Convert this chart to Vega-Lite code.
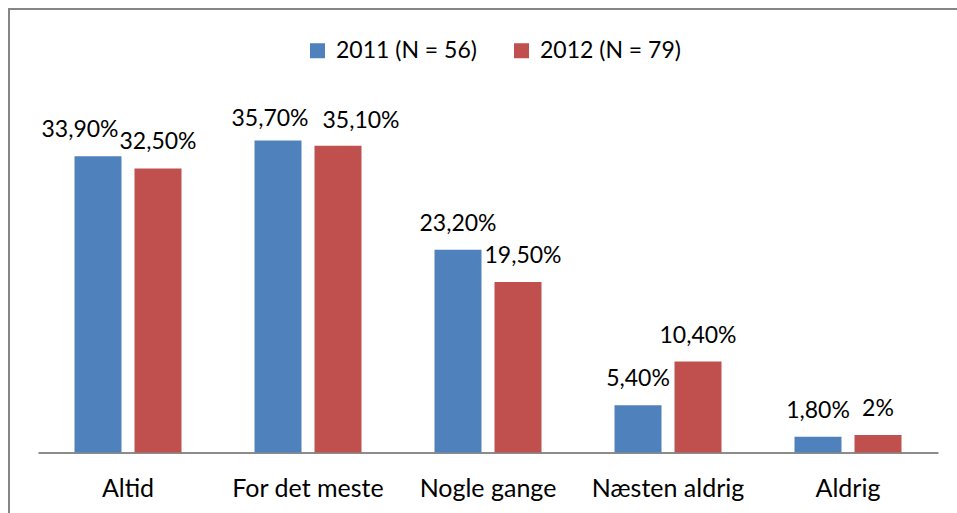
{
  "$schema": "https://vega.github.io/schema/vega-lite/v6.json",
  "autosize": {"type": "fit", "contains": "padding"},
  "width": 957,
  "height": 513,
  "padding": {"left": 9, "top": 9, "right": -10, "bottom": -10},
  "background": "white",
  "data": {
    "values": [
      {"kategori": "Altid", "aar": "2011 (N = 56)", "andel": 33.9, "label": "33,90%"},
      {"kategori": "Altid", "aar": "2012 (N = 79)", "andel": 32.5, "label": "32,50%"},
      {"kategori": "For det meste", "aar": "2011 (N = 56)", "andel": 35.7, "label": "35,70%"},
      {"kategori": "For det meste", "aar": "2012 (N = 79)", "andel": 35.1, "label": "35,10%"},
      {"kategori": "Nogle gange", "aar": "2011 (N = 56)", "andel": 23.2, "label": "23,20%"},
      {"kategori": "Nogle gange", "aar": "2012 (N = 79)", "andel": 19.5, "label": "19,50%"},
      {"kategori": "Næsten aldrig", "aar": "2011 (N = 56)", "andel": 5.4, "label": "5,40%"},
      {"kategori": "Næsten aldrig", "aar": "2012 (N = 79)", "andel": 10.4, "label": "10,40%"},
      {"kategori": "Aldrig", "aar": "2011 (N = 56)", "andel": 1.8, "label": "1,80%"},
      {"kategori": "Aldrig", "aar": "2012 (N = 79)", "andel": 2, "label": "2%"}
    ]
  },
  "encoding": {
    "x": {
      "field": "kategori",
      "type": "nominal",
      "sort": null,
      "scale": {"range": [29, 929], "paddingInner": 0, "paddingOuter": 0},
      "axis": {
        "title": null,
        "labelAngle": 0,
        "ticks": false,
        "offset": -70.5,
        "domainColor": "#8c8c8c",
        "domainWidth": 2,
        "labelFont": "Lato",
        "labelFontSize": 25,
        "labelColor": "#000000",
        "labelBaseline": "alphabetic",
        "labelPadding": 44
      }
    },
    "xOffset": {
      "field": "aar",
      "type": "nominal",
      "scale": {"paddingInner": 0.21667, "paddingOuter": 0.6083}
    },
    "y": {
      "field": "andel",
      "type": "quantitative",
      "scale": {"domain": [0, 50.74], "range": [443.5, 0], "nice": false, "zero": true},
      "axis": null
    }
  },
  "layer": [
    {
      "mark": {"type": "bar"},
      "encoding": {
        "color": {
          "field": "aar",
          "type": "nominal",
          "scale": {"range": ["#4F81BD", "#C0504D"]},
          "legend": {
            "title": null,
            "orient": "none",
            "direction": "horizontal",
            "legendX": 297,
            "legendY": 30,
            "symbolType": "square",
            "symbolSize": 225,
            "symbolStrokeWidth": 0,
            "symbolOpacity": 1,
            "labelFont": "Lato",
            "labelFontSize": 23,
            "labelColor": "#000000",
            "labelOffset": 7,
            "columnPadding": 33,
            "padding": 0
          }
        }
      }
    },
    {
      "transform": [{"filter": "indexof(['33,90%','35,70%','35,10%','19,50%'], datum.label) < 0"}],
      "mark": {"type": "text", "baseline": "alphabetic", "dy": -19, "font": "Lato", "fontSize": 23, "color": "#000000"},
      "encoding": {"text": {"field": "label"}}
    },
    {
      "transform": [{"filter": "datum.label == '33,90%'"}],
      "mark": {"type": "text", "baseline": "alphabetic", "dy": -19, "dx": -18, "font": "Lato", "fontSize": 23, "color": "#000000"},
      "encoding": {"text": {"field": "label"}}
    },
    {
      "transform": [{"filter": "datum.label == '35,70%'"}],
      "mark": {"type": "text", "baseline": "alphabetic", "dy": -14, "dx": -8, "font": "Lato", "fontSize": 23, "color": "#000000"},
      "encoding": {"text": {"field": "label"}}
    },
    {
      "transform": [{"filter": "datum.label == '35,10%'"}],
      "mark": {"type": "text", "baseline": "alphabetic", "dy": -18, "dx": 23, "font": "Lato", "fontSize": 23, "color": "#000000"},
      "encoding": {"text": {"field": "label"}}
    },
    {
      "transform": [{"filter": "datum.label == '19,50%'"}],
      "mark": {"type": "text", "baseline": "alphabetic", "dy": -19, "dx": 5, "font": "Lato", "fontSize": 23, "color": "#000000"},
      "encoding": {"text": {"field": "label"}}
    }
  ],
  "config": {
    "view": {"stroke": "#868686", "strokeWidth": 2},
    "font": "Lato"
  }
}
